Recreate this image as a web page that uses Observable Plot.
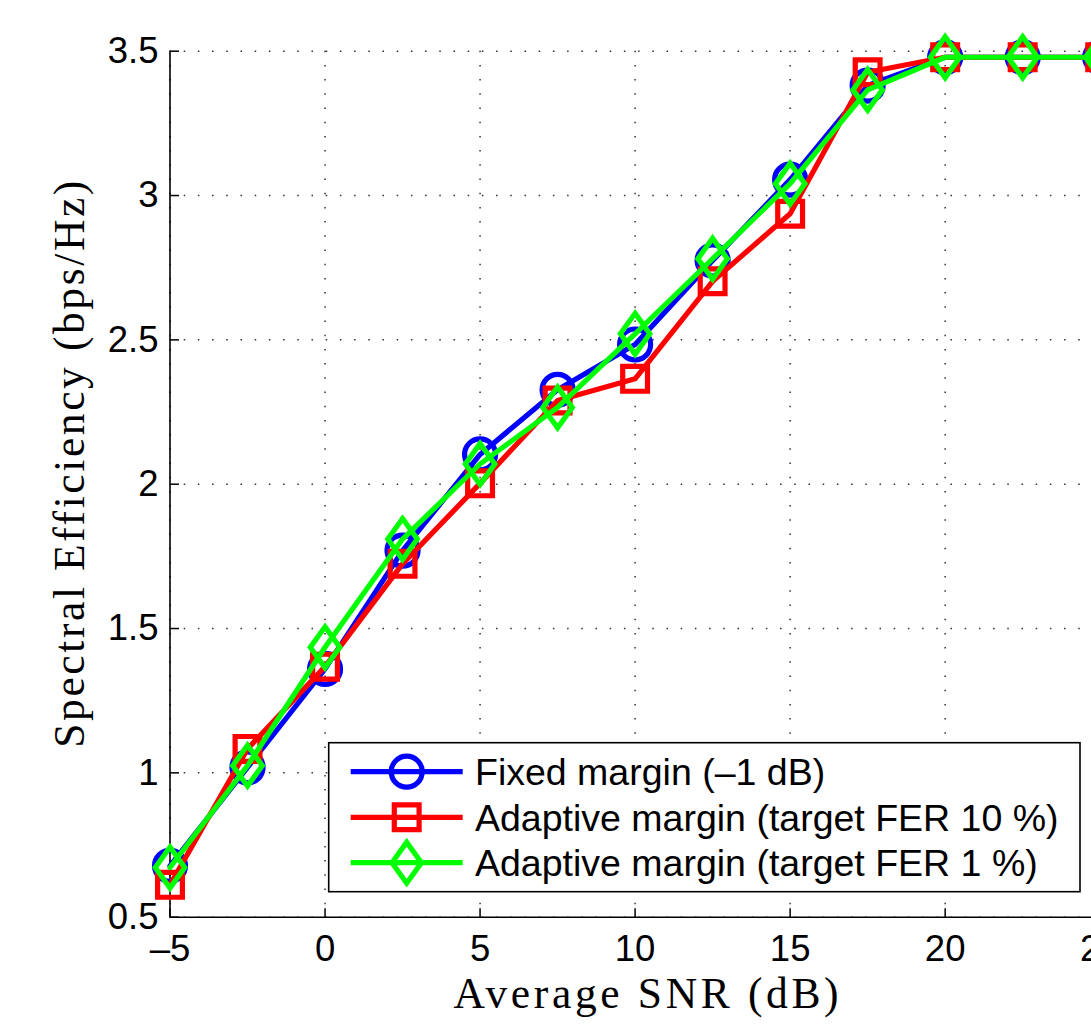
<!DOCTYPE html>
<html><head><meta charset="utf-8">
<script src="https://cdn.jsdelivr.net/npm/d3@7"></script>
<script src="https://cdn.jsdelivr.net/npm/@observablehq/plot@0.6"></script>
<style>
html,body{margin:0;padding:0;background:#fff;overflow:hidden;}
#wrap{width:1091px;height:1024px;overflow:hidden;position:relative;background:#fff;}
#wrap svg{max-width:none !important;}
</style></head><body><div id="wrap"></div>
<script>
const snr = [-5, -2.5, 0, 2.5, 5, 7.5, 10, 12.5, 15, 17.5, 20, 22.5, 25];
const fixedMargin = [0.678, 1.019, 1.360, 1.770, 2.103, 2.327, 2.484, 2.775, 3.055, 3.381, 3.479, 3.479, 3.479];
const adaptive10 = [0.612, 1.083, 1.368, 1.724, 2.003, 2.290, 2.365, 2.703, 2.937, 3.427, 3.479, 3.479, 3.479];
const adaptive1 = [0.672, 1.025, 1.435, 1.810, 2.070, 2.266, 2.521, 2.781, 3.041, 3.366, 3.479, 3.479, 3.479];
const seriesNames = ["Fixed margin (–1 dB)", "Adaptive margin (target FER 10 %)", "Adaptive margin (target FER 1 %)"];
const seriesColors = ["#0000ff", "#ff0000", "#00ff00"];
const xTicks = [-5, 0, 5, 10, 15, 20, 25];
const yTicks = [0.5, 1, 1.5, 2, 2.5, 3, 3.5];
const xLabel = "Average SNR (dB)";
const yLabel = "Spectral Efficiency (bps/Hz)";

const squareSym = {draw(ctx, size) {
  const r = Math.sqrt(size / Math.PI), s = r * 0.8;
  ctx.moveTo(-s, -s); ctx.lineTo(s, -s); ctx.lineTo(s, s); ctx.lineTo(-s, s); ctx.closePath();
}};
const diamondSym = {draw(ctx, size) {
  const r = Math.sqrt(size / Math.PI), w = r * 0.95, h = r * 1.32;
  ctx.moveTo(0, -h); ctx.lineTo(w, 0); ctx.lineTo(0, h); ctx.lineTo(-w, 0); ctx.closePath();
}};
const tickUp = {draw(ctx) { ctx.moveTo(0, 0); ctx.lineTo(0, -9); }};
const tickRight = {draw(ctx) { ctx.moveTo(0, 0); ctx.lineTo(9, 0); }};
const symbols = ["circle", squareSym, diamondSym];
const d3Symbols = [d3.symbolCircle, squareSym, diamondSym];
const seriesValues = [fixedMargin, adaptive10, adaptive1];

const fmt = d => String(d).replace("-", "–");
const markerR = 15.5;

const seriesMarks = seriesValues.flatMap((vals, k) => {
  const data = snr.map((x, i) => ({x, y: vals[i]}));
  return [
    Plot.line(data, {x: "x", y: "y", stroke: seriesColors[k], strokeWidth: 5.2, strokeLinejoin: "round"}),
    Plot.dot(data, {x: "x", y: "y", stroke: seriesColors[k], fill: "none", strokeWidth: 5.2, r: markerR, symbol: symbols[k], strokeLinejoin: "miter"})
  ];
});

const chart = Plot.plot({
  width: 1120, height: 1024,
  marginLeft: 169.5, marginRight: 20.3, marginTop: 50.7, marginBottom: 107.3,
  style: {fontFamily: "'Liberation Sans', Arial, Helvetica, sans-serif", fontSize: "36px", background: "#fff", color: "#000", maxWidth: "none"},
  x: {domain: [-5, 25]},
  y: {domain: [0.5, 3.5]},
  marks: [
    Plot.gridX(xTicks, {stroke: "#333", strokeOpacity: 1, strokeWidth: 1.5, strokeDasharray: "1.5,12.7"}),
    Plot.gridY(yTicks, {stroke: "#333", strokeOpacity: 1, strokeWidth: 1.5, strokeDasharray: "1.5,12.7"}),
    Plot.ruleX([xTicks[0]], {stroke: "#000", strokeWidth: 1.6}),
    Plot.ruleY([yTicks[0]], {stroke: "#000", strokeWidth: 1.6}),
    Plot.dot(xTicks, {x: d => d, y: () => yTicks[0], symbol: tickUp, stroke: "#000", strokeWidth: 1.5, r: 1}),
    Plot.dot(yTicks, {x: () => xTicks[0], y: d => d, symbol: tickRight, stroke: "#000", strokeWidth: 1.5, r: 1}),
    Plot.axisX({ticks: xTicks, anchor: "bottom", tickSize: 0, tickPadding: 18, tickFormat: fmt, label: null, fontSize: 36.5}),
    Plot.axisY({ticks: yTicks, anchor: "left", tickSize: 0, tickPadding: 11.5, tickFormat: fmt, label: null, fontSize: 36.5}),
    ...seriesMarks,
    Plot.text([xLabel], {frameAnchor: "bottom", text: d => d, dx: 11, dy: 91, lineAnchor: "bottom", textAnchor: "middle", fontSize: 43.5, fontFamily: "'Liberation Serif', 'Times New Roman', serif", fill: "#000"}),
    Plot.text([yLabel], {frameAnchor: "left", text: d => d, rotate: -90, dx: -86.5, dy: -20, lineAnchor: "bottom", textAnchor: "middle", fontSize: 43.5, fontFamily: "'Liberation Serif', 'Times New Roman', serif", fill: "#000"})
  ]
});
chart.style.maxWidth = "none";
document.getElementById("wrap").appendChild(chart);

const svg = d3.select(chart);
svg.selectAll("text").filter(function() { return this.textContent === xLabel; })
  .attr("textLength", 385).attr("lengthAdjust", "spacing");
svg.selectAll("text").filter(function() { return this.textContent === yLabel; })
  .attr("textLength", 567).attr("lengthAdjust", "spacing");

// legend
const lg = svg.append("g").attr("text-anchor", "start");
lg.append("rect").attr("x", 328.7).attr("y", 742.7).attr("width", 751.3).attr("height", 149)
  .attr("fill", "#fff").attr("stroke", "#000").attr("stroke-width", 1.6);
const rowY = [771.7, 817.3, 862.7];
seriesNames.forEach((name, k) => {
  const y = rowY[k];
  lg.append("line").attr("x1", 350.7).attr("x2", 462.7).attr("y1", y).attr("y2", y)
    .attr("stroke", seriesColors[k]).attr("stroke-width", 5.2);
  lg.append("path").attr("transform", `translate(406.7,${y})`)
    .attr("d", d3.symbol(d3Symbols[k], Math.PI * markerR * markerR)())
    .attr("fill", "none").attr("stroke", seriesColors[k]).attr("stroke-width", 5.2).attr("stroke-linejoin", "miter");
  lg.append("text").attr("x", 475).attr("y", y + 13.5).attr("text-anchor", "start")
    .attr("font-family", "'Liberation Sans', Arial, Helvetica, sans-serif").attr("font-size", 37.5)
    .attr("fill", "#000").text(name);
});
</script>
</body></html>
